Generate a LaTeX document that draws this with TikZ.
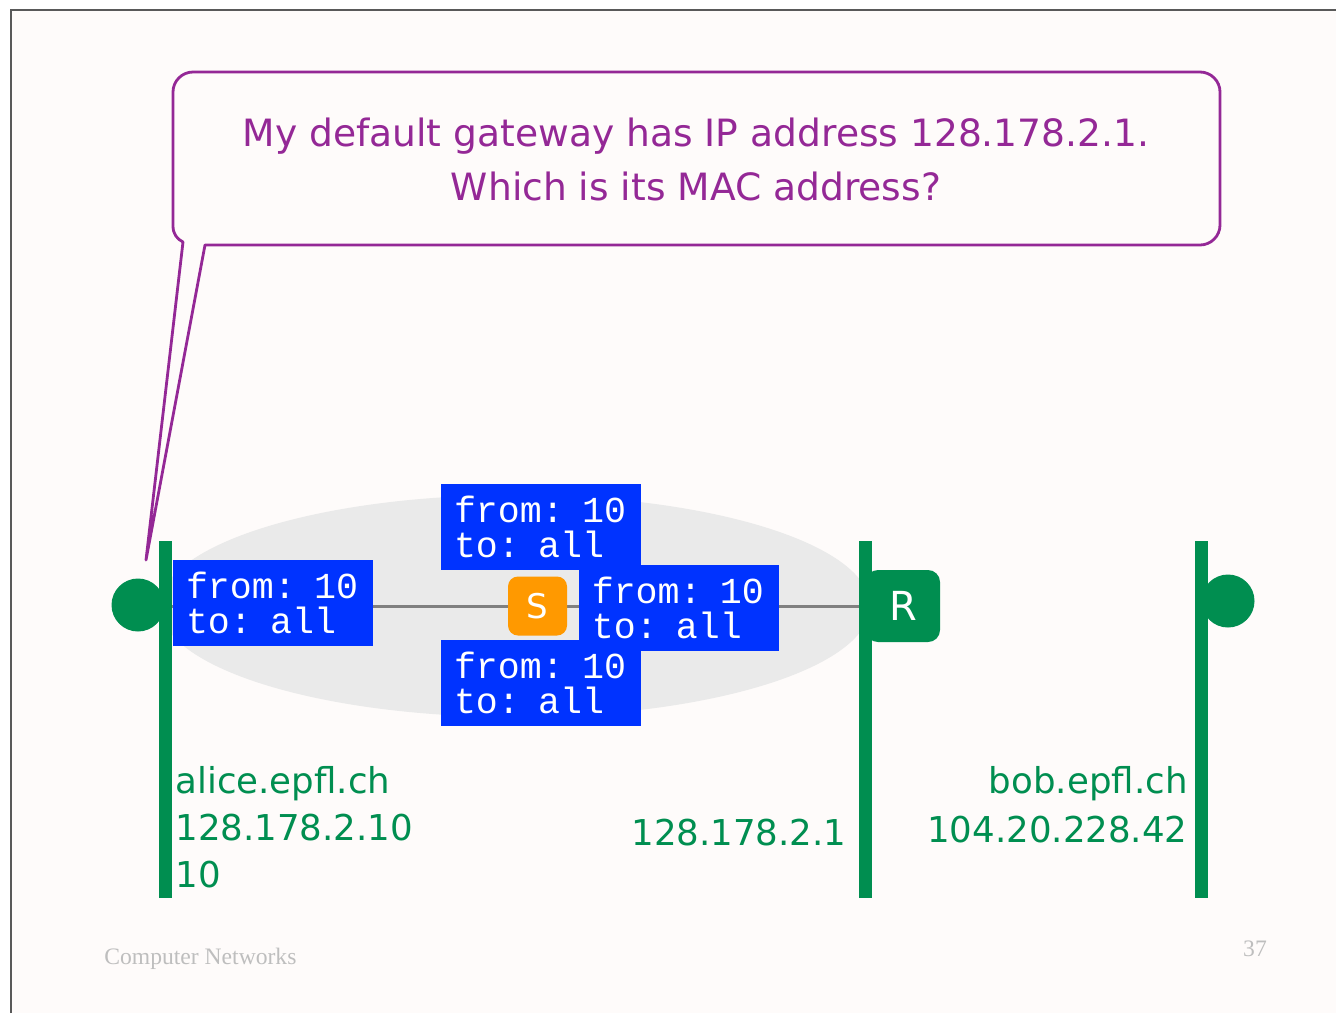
\documentclass[tikz,border=0pt]{standalone}
\usepackage{fontspec}
\setmainfont{DejaVu Sans}
\setmonofont{Liberation Mono}
\newfontfamily\footfont{Liberation Serif}
\usetikzlibrary{positioning}
\definecolor{slidebg}{RGB}{254,251,250}
\definecolor{lanGreen}{RGB}{0,142,80}
\definecolor{callPurple}{RGB}{148,40,150}
\definecolor{frameBlue}{RGB}{0,51,255}
\definecolor{switchOrange}{RGB}{255,153,0}
\definecolor{bcastGray}{RGB}{234,234,234}
\definecolor{footGray}{RGB}{190,190,190}

\begin{document}
\begin{tikzpicture}[x=0.5pt, y=-0.5pt]
        \tikzset{
        host/.style    = {circle, fill=lanGreen, minimum size=26.5pt, inner sep=0pt},
        lanbar/.style  = {draw=lanGreen, line width=6.5pt},
        link/.style    = {draw=gray, line width=1.5pt},
        bcast/.style   = {fill=frameBlue, text=white, font=\ttfamily\fontsize{18.3}{17.5}\selectfont, text width=87pt, inner xsep=6.5pt, inner ysep=0pt, minimum height=43pt, align=left},
        swbox/.style   = {fill=switchOrange, text=white, rounded corners=5pt, minimum size=29.5pt, inner sep=0pt, font=\fontsize{17}{20}\selectfont},
        rtbox/.style   = {fill=lanGreen, text=white, rounded corners=6pt, minimum width=37pt, minimum height=36pt, inner sep=0pt, font=\fontsize{20}{24}\selectfont},
        addr/.style    = {text=lanGreen, inner sep=0pt, font=\fontsize{17.8}{23.5}\selectfont},
        say/.style     = {text=callPurple, align=center, font=\fontsize{18.8}{27}\selectfont},
        foot/.style    = {text=footGray, inner sep=0pt, font=\footfont\fontsize{11.8}{14}\selectfont}
        }
        \useasboundingbox (0,0) rectangle (1336,1013);

        % Slide background
        \fill[white] (0,0) rectangle (1336,1013);
        \fill[slidebg] (11,10) rectangle (1336,1013);
        \draw[gray!70!black, line width=0.8pt] (11,1013) -- (11,10) -- (1336,10);

        % Speech bubble
        \draw[callPurple, line width=1.4pt, fill=slidebg, line join=round]
        (146,560) -- (205,245) -- (1200,245) .. controls (1211,245) and (1220,236) .. (1220,225)
        -- (1220,92) .. controls (1220,81) and (1211,72) .. (1200,72)
        -- (193,72) .. controls (182,72) and (173,81) .. (173,92)
        -- (173,226) .. controls (173,234) and (177,239) .. (183,242) -- cycle;
        \node[say] (question) at (696,159) {My default gateway has IP address 128.178.2.1.\\Which is its MAC address?};

        % Broadcast domain
        \fill[bcastGray] (515,606) ellipse [x radius=355, y radius=111];
        \coordinate (aliceport) at (165,606);
        \coordinate (routerport) at (865,606);
        \draw[link] (aliceport) -- (routerport);

        % Hosts, switch and router
        \node[host] (alice) at (138,605) {};
        \node[host] (bob) at (1228,601) {};
        \node[swbox] (switch) at (537.5,606) {S};
        \node[rtbox] (router) at (903,606) {R};

        % LAN segments
        \draw[lanbar] (165,541) -- (165,898);
        \draw[lanbar] (865,541) -- (865,898);
        \draw[lanbar] (1201,541) -- (1201,898);

        % Broadcast frames
        \node[bcast] (leftframe) at (273,603) {from: 10\\to: all};
        \node[bcast] (topframe) at (541,527) {from: 10\\to: all};
        \node[bcast, right=5.5pt of switch, yshift=-0.75pt] (rightframe) {from: 10\\to: all};
        \node[bcast] (bottomframe) at (541,682.5) {from: 10\\to: all};

        % Names and addresses
        \node[addr, anchor=base west] (alicename) at (175,793) {alice.epfl.ch};
        \node[addr, anchor=base west] (aliceip) at (175,840) {128.178.2.10};
        \node[addr, anchor=base west] (alicemac) at (175,887) {10};
        \node[addr, anchor=base east] (routerip) at (847,845) {128.178.2.1};
        \node[addr, anchor=base east] (bobname) at (1188,793) {bob.epfl.ch};
        \node[addr, anchor=base east] (bobip) at (1188,842) {104.20.228.42};

        % Footer
        \node[foot, anchor=west] (course) at (104,959) {Computer Networks};
        \node[foot] (page) at (1255,949) {37};
    \end{tikzpicture}
\end{document}
